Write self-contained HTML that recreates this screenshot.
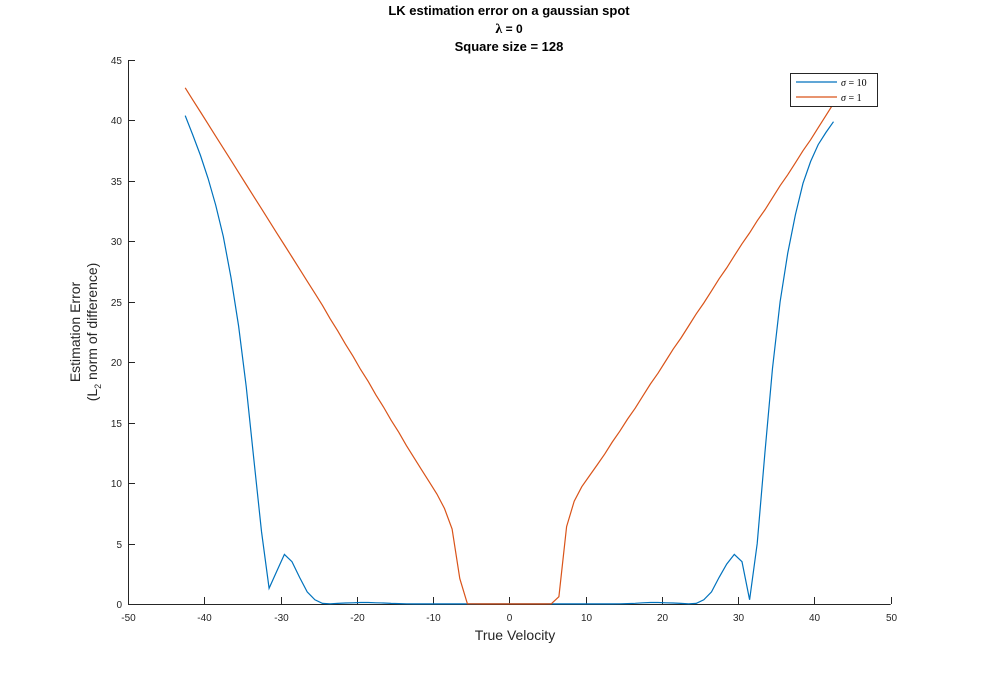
<!DOCTYPE html>
<html><head><meta charset="utf-8"><style>
html,body{margin:0;padding:0;background:#fff;}
svg{display:block;font-family:"Liberation Sans",sans-serif;}
</style></head><body>
<svg id="chart" width="984" height="679" viewBox="0 0 984 679">
<text x="509" y="15" text-anchor="middle" font-size="13" font-weight="bold">LK estimation error on a gaussian spot</text>
<text x="509" y="33" text-anchor="middle" font-size="12" font-weight="bold"><tspan font-family="Liberation Serif" font-size="14">λ</tspan> = 0</text>
<text x="509" y="51" text-anchor="middle" font-size="13" font-weight="bold">Square size = 128</text>
<g id="axes"></g>
<g id="series"></g>
<text x="515" y="640" text-anchor="middle" font-size="14" fill="#262626">True Velocity</text>
<g transform="translate(80,332) rotate(-90)">
<text x="0" y="0" text-anchor="middle" font-size="14" fill="#262626">Estimation Error</text>
<text x="0" y="17" text-anchor="middle" font-size="14" fill="#262626">(L<tspan font-size="9" dy="4">2</tspan><tspan dy="-4"> norm of difference)</tspan></text>
</g>
<g>
<rect x="790.5" y="73.5" width="87" height="33" fill="#fff" stroke="#262626" stroke-width="1"/>
<line x1="796" y1="82" x2="837" y2="82" stroke="#0072BD" stroke-width="1.2"/>
<text x="841" y="86" font-size="10" font-family="Liberation Serif"><tspan font-style="italic">σ</tspan> = 10</text>
<line x1="796" y1="97" x2="837" y2="97" stroke="#D95319" stroke-width="1.2"/>
<text x="841" y="101" font-size="10" font-family="Liberation Serif"><tspan font-style="italic">σ</tspan> = 1</text>
</g>
</svg>
<script>
const velocities = [-42.5,-41.5,-40.5,-39.5,-38.5,-37.5,-36.5,-35.5,-34.5,-33.5,-32.5,-31.5,-30.5,-29.5,-28.5,-27.5,-26.5,-25.5,-24.5,-23.5,-22.5,-21.5,-20.5,-19.5,-18.5,-17.5,-16.5,-15.5,-14.5,-13.5,-12.5,-11.5,-10.5,-9.5,-8.5,-7.5,-6.5,-5.5,-4.5,-3.5,-2.5,-1.5,-0.5,0.5,1.5,2.5,3.5,4.5,5.5,6.5,7.5,8.5,9.5,10.5,11.5,12.5,13.5,14.5,15.5,16.5,17.5,18.5,19.5,20.5,21.5,22.5,23.5,24.5,25.5,26.5,27.5,28.5,29.5,30.5,31.5,32.5,33.5,34.5,35.5,36.5,37.5,38.5,39.5,40.5,41.5,42.5];
const sigma10 = [40.4,38.8,37.1,35.2,33.0,30.4,27.0,23.0,18.0,12.0,6.0,1.3,2.7,4.1,3.5,2.2,1.0,0.35,0.05,0.02,0.05,0.08,0.1,0.12,0.12,0.1,0.08,0.05,0.03,0.02,0.01,0.01,0.01,0.01,0.01,0.01,0.01,0.01,0.01,0.01,0.01,0.01,0.01,0.01,0.01,0.01,0.01,0.01,0.01,0.01,0.01,0.01,0.01,0.01,0.01,0.01,0.01,0.02,0.03,0.06,0.1,0.12,0.12,0.1,0.08,0.05,0.02,0.05,0.35,1.0,2.2,3.3,4.1,3.5,0.35,5.0,12.5,19.5,25.0,29.0,32.2,34.8,36.6,38.0,39.0,39.9];
const sigma1 = [42.7,41.7,40.7,39.7,38.7,37.7,36.7,35.7,34.7,33.7,32.7,31.7,30.7,29.7,28.7,27.7,26.7,25.7,24.7,23.6,22.6,21.5,20.5,19.4,18.4,17.3,16.3,15.2,14.2,13.1,12.1,11.1,10.1,9.1,7.9,6.2,2.1,0.02,0.02,0.01,0.01,0.01,0.01,0.01,0.01,0.01,0.01,0.01,0.02,0.6,6.4,8.5,9.7,10.6,11.5,12.4,13.4,14.3,15.3,16.2,17.2,18.2,19.1,20.1,21.1,22.0,23.0,24.0,24.9,25.9,26.9,27.8,28.8,29.8,30.7,31.7,32.6,33.6,34.6,35.5,36.5,37.5,38.4,39.4,40.4,41.4];
const xTicks = [-50,-40,-30,-20,-10,0,10,20,30,40,50];
const yTicks = [0,5,10,15,20,25,30,35,40,45];

const NS = "http://www.w3.org/2000/svg";
const X0 = 128, X1 = 890.7, Y0 = 604, Y1 = 60;
function xs(v){ return X0 + (v + 50) / 100 * (X1 - X0); }
function ys(v){ return Y0 - v / 45 * (Y0 - Y1); }
function mk(tag, attrs, parent){ const e = document.createElementNS(NS, tag); for (const k in attrs) e.setAttribute(k, attrs[k]); parent.appendChild(e); return e; }

const axes = document.getElementById('axes');
const xAxis = mk('line', {x1:X0, y1:Y0+0.5, x2:X1, y2:Y0+0.5, stroke:'#262626', 'stroke-width':1}, axes);


const yAxis = mk('line', {x1:X0+0.5, y1:Y0, x2:X0+0.5, y2:Y1, stroke:'#262626', 'stroke-width':1}, axes);


xTicks.forEach(t => {
  const x = Math.round(xs(t)) + 0.5;
  const tk = mk('line', {x1:x, y1:Y0, x2:x, y2:Y0-7, stroke:'#262626'}, axes);
  
  
  const lb = mk('text', {x:x, y:Y0+17, 'text-anchor':'middle', 'font-size':10, fill:'#262626'}, axes);
  lb.textContent = t;
  
  
});
yTicks.forEach(t => {
  const y = Math.round(ys(t)) + 0.5;
  const tk = mk('line', {x1:X0, y1:y, x2:X0+7, y2:y, stroke:'#262626'}, axes);
  
  
  const lb = mk('text', {x:X0-6, y:y+3.5, 'text-anchor':'end', 'font-size':10, fill:'#262626'}, axes);
  lb.textContent = t;
  
  
});

const series = document.getElementById('series');
function drawLine(vals, color, name){
  const d = vals.map((v,i) => (i ? 'L' : 'M') + xs(velocities[i]).toFixed(1) + ' ' + ys(v).toFixed(1)).join(' ');
  const p = mk('path', {d:d, fill:'none', stroke:color, 'stroke-width':1.2}, series);
  
  
}
drawLine(sigma10, '#0072BD', 'line-sigma10');
drawLine(sigma1, '#D95319', 'line-sigma1');
</script>
</body></html>
